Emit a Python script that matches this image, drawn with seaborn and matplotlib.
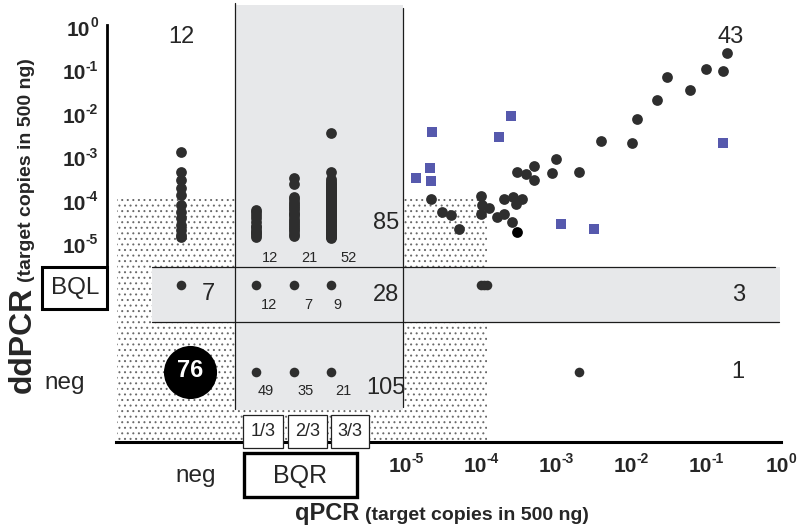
import numpy as np
import pandas as pd
import matplotlib
matplotlib.use("Agg")
import matplotlib.pyplot as plt
from matplotlib.patches import Rectangle
import seaborn as sns

# ---------------- data (log10 of target copies in 500 ng) ----------------
tick_exponents = [-5, -4, -3, -2, -1, 0]
bqr_levels = ["1/3", "2/3", "3/3"]

# qPCR negative, ddPCR quantifiable (12)
neg_dd_log10 = [-2.92, -3.38, -3.57, -3.76, -3.92, -4.15, -4.30, -4.45, -4.61, -4.72, -4.84, -4.88]
# qPCR BQR (1/3, 2/3, 3/3 replicates positive), ddPCR quantifiable
bqr1_dd_log10 = [-4.26, -4.30, -4.38, -4.45, -4.55, -4.62, -4.66, -4.72, -4.76, -4.80, -4.85, -4.88]
bqr2_dd_log10 = [-3.53, -3.66, -3.97, -4.02, -4.08, -4.12, -4.18, -4.22, -4.27, -4.33, -4.36,
                 -4.41, -4.47, -4.52, -4.56, -4.60, -4.66, -4.71, -4.75, -4.81, -4.87]
bqr3_dd_log10 = [-2.50, -3.38, -3.55, -3.60, -3.63, -3.67, -3.70, -3.74, -3.77, -3.80, -3.83,
                 -3.86, -3.88, -3.90, -3.93, -3.96, -3.98, -4.00, -4.03, -4.05, -4.08, -4.10,
                 -4.13, -4.15, -4.18, -4.20, -4.23, -4.25, -4.28, -4.30, -4.33, -4.36, -4.38,
                 -4.40, -4.43, -4.46, -4.49, -4.52, -4.55, -4.58, -4.61, -4.64, -4.67, -4.70,
                 -4.73, -4.76, -4.79, -4.82, -4.84, -4.86, -4.88, -4.90]

# both quantifiable: circles
quant_circ_q = [-0.72, -1.00, -0.77, -1.52, -1.22, -1.66, -1.92, -2.40, -1.99, -3.00, -2.69,
                -3.05, -3.30, -3.30, -3.52, -3.40, -4.67, -4.52, -4.40, -4.30, -4.00, -3.99,
                -4.00, -3.90, -3.79, -3.70, -3.70, -3.57, -3.46, -3.53, -3.59]
quant_circ_dd = [-0.64, -1.02, -1.06, -1.20, -1.50, -1.72, -2.17, -2.67, -2.73, -3.08, -3.39,
                 -3.41, -3.26, -3.56, -3.39, -3.44, -4.01, -4.32, -4.38, -4.71, -3.94, -4.15,
                 -4.36, -4.22, -4.42, -4.36, -4.02, -3.96, -4.01, -4.12, -4.53]
quant_black_q = [-3.52]
quant_black_dd = [-4.78]
# both quantifiable: squares
quant_sq_q = [-4.66, -3.60, -3.76, -4.68, -4.87, -4.67, -2.94, -2.50, -0.77]
quant_sq_dd = [-2.46, -2.10, -2.57, -3.29, -3.52, -3.59, -4.59, -4.71, -2.73]
# qPCR quantifiable, ddPCR BQL / negative
bql_row_q = [-4.00, -3.96, -3.92]
neg_row_q = [-2.70]

# counts
count_neg_quant = 12
count_quant_quant = 43
bqr_quant_counts = [12, 21, 52]
bqr_bql_counts = [12, 7, 9]
bqr_neg_counts = [49, 35, 21]
total_bqr_quant, total_bqr_bql, total_bqr_neg = 85, 28, 105
count_neg_bql, count_quant_bql, count_quant_neg = 7, 3, 1
count_neg_neg = 76

# ---------------- layout helpers (pixel -> data) ----------------
def X(px):
    return -5 + (px - 406) / 75.0

def Y(py):
    return -(py - 25) / 43.4

def PX(x):
    return 406 + 75.0 * (x + 5)

def PY(y):
    return 25 - 43.4 * y

NEG_X = -8.0
BQR_X = [-7.0, -6.5, -6.0]
BQL_Y = -6.0
NEG_Y = -8.0

sns.set_theme(style="white")
plt.rcParams["font.family"] = ["Liberation Sans", "DejaVu Sans"]
plt.rcParams["hatch.linewidth"] = 0.7

fig = plt.figure(figsize=(8, 5.28), dpi=100)
ax = fig.add_axes([0, 0, 1, 1])
ax.set_xlim(X(0), X(800))
ax.set_ylim(Y(528), Y(0))
ax.set_facecolor("white")

GRAY = "#e7e8ea"
DOT = "#2e2e2e"
BLUE = "#5659ad"

# stippled low region
ax.add_patch(Rectangle((X(117), Y(440)), X(487) - X(117), Y(199) - Y(440),
                       facecolor="none", edgecolor="#6a6a6a", hatch="...", lw=0, zorder=0.5))
# gray BQR column and BQL band
ax.add_patch(Rectangle((X(235), Y(410)), X(403) - X(235), Y(5) - Y(410),
                       facecolor=GRAY, lw=0, zorder=1))
ax.add_patch(Rectangle((X(152), Y(322)), X(780) - X(152), Y(267) - Y(322),
                       facecolor=GRAY, lw=0, zorder=1))
# separating lines
lc = "#1c1c1c"
ax.plot([X(235), X(235)], [Y(409), Y(3)], color=lc, lw=0.9, zorder=2)
ax.plot([X(403), X(403)], [Y(407), Y(8)], color=lc, lw=0.9, zorder=2)
ax.plot([X(152), X(775)], [Y(267), Y(267)], color=lc, lw=0.9, zorder=2)
ax.plot([X(152), X(779)], [Y(322), Y(322)], color=lc, lw=0.9, zorder=2)

# ---------------- marks ----------------
S_COL = 60
sns.scatterplot(x=[NEG_X] * len(neg_dd_log10), y=neg_dd_log10, ax=ax, color=DOT, s=S_COL,
                linewidth=0, zorder=3, legend=False)
for xpos, vals in zip(BQR_X, [bqr1_dd_log10, bqr2_dd_log10, bqr3_dd_log10]):
    sns.scatterplot(x=[xpos] * len(vals), y=vals, ax=ax, color=DOT, s=S_COL,
                    linewidth=0, zorder=3, legend=False)
sns.scatterplot(x=quant_circ_q, y=quant_circ_dd, ax=ax, color=DOT, s=S_COL,
                linewidth=0, zorder=3, legend=False)
sns.scatterplot(x=quant_black_q, y=quant_black_dd, ax=ax, color="black", s=S_COL,
                linewidth=0, zorder=3, legend=False)
sns.scatterplot(x=quant_sq_q, y=quant_sq_dd, ax=ax, color=BLUE, marker="s", s=62,
                linewidth=0, zorder=3, legend=False)

S_ROW = 48
sns.scatterplot(x=[NEG_X] + BQR_X + bql_row_q, y=[BQL_Y] * (4 + len(bql_row_q)), ax=ax,
                color=DOT, s=S_ROW, linewidth=0, zorder=3, legend=False)
sns.scatterplot(x=BQR_X + neg_row_q, y=[NEG_Y] * (3 + len(neg_row_q)), ax=ax,
                color=DOT, s=S_ROW, linewidth=0, zorder=3, legend=False)
# big negative/negative bubble
sns.scatterplot(x=[NEG_X + 0.12], y=[NEG_Y], ax=ax, color="black", s=1460,
                linewidth=0, zorder=3, legend=False)
ax.text(NEG_X + 0.12, NEG_Y + 0.03, str(count_neg_neg), color="white", fontsize=17,
        fontweight="bold", ha="center", va="center", zorder=4)

# ---------------- count labels ----------------
def txt(px, py, s, size=17, **kw):
    ax.text(X(px), Y(py), s, fontsize=size, ha=kw.pop("ha", "center"),
            va=kw.pop("va", "center"), zorder=kw.pop("zorder", 4), **kw)

txt(181, 37, str(count_neg_quant))
txt(731, 37, str(count_quant_quant))
txt(386, 223, str(total_bqr_quant))
txt(386, 295, str(total_bqr_bql))
txt(386, 388, str(total_bqr_neg))
txt(208, 294, str(count_neg_bql))
txt(739, 295, str(count_quant_bql))
txt(738, 372, str(count_quant_neg))
for px, c in zip([270, 309, 349], bqr_quant_counts):
    txt(px, 258, str(c), size=10.5)
for px, c in zip([269, 308, 337], bqr_bql_counts):
    txt(px, 305, str(c), size=10.5)
for px, c in zip([266, 306, 343], bqr_neg_counts):
    txt(px, 391, str(c), size=10.5)

# ---------------- axes ----------------
for side in ["top", "right"]:
    ax.spines[side].set_visible(False)
ax.spines["left"].set_position(("data", X(107)))
ax.spines["left"].set_bounds(Y(267), 0)
ax.spines["bottom"].set_position(("data", Y(442)))
ax.spines["bottom"].set_bounds(X(116), 0)
ax.spines["left"].set_linewidth(2.0)
ax.spines["bottom"].set_linewidth(2.2)
for sp in ["left", "bottom"]:
    ax.spines[sp].set_color("black")
    ax.spines[sp].set_zorder(2.5)
ax.set_xticks(tick_exponents)
ax.set_yticks(tick_exponents)
ax.set_xticklabels([])
ax.set_yticklabels([])
ax.tick_params(axis="both", direction="out", length=6.5, width=1.8, colors="black")
ax.grid(False)

# power-of-ten tick labels: "10" with a small raised exponent
renderer = fig.canvas.get_renderer()
BASE_FS, EXP_FS = 15, 10
def width_px(s, fs):
    t = fig.text(0, 0, s, fontsize=fs, fontweight="bold")
    w = t.get_window_extent(renderer).width
    t.remove()
    return w

w10 = width_px("10", BASE_FS)
for e in tick_exponents:
    es = "-%d" % -e if e < 0 else "%d" % e
    we = width_px(es, EXP_FS)
    # x axis label, centred under tick
    tx = PX(e)
    left = tx - (w10 + we) / 2
    ax.text(X(left), Y(472.5), "10", fontsize=BASE_FS, fontweight="bold", ha="left",
            va="baseline")
    ax.text(X(left + w10), Y(463), es, fontsize=EXP_FS, fontweight="bold", ha="left",
            va="baseline")
    # y axis label, right-aligned left of tick
    ty = PY(e)
    ax.text(X(98), Y(ty + 2.5), es, fontsize=EXP_FS, fontweight="bold", ha="right",
            va="baseline")
    ax.text(X(98 - we), Y(ty + 11), "10", fontsize=BASE_FS, fontweight="bold",
            ha="right", va="baseline")

# category labels on the axes
ax.add_patch(Rectangle((X(42), Y(309)), X(107) - X(42), Y(267) - Y(309), facecolor="white",
                       edgecolor="black", lw=2.2, zorder=5))
txt(75, 288, "BQL", size=17.5, zorder=6)
ax.text(X(44), Y(389), "neg", fontsize=17.5, ha="left", va="baseline", zorder=6)
ax.text(X(175), Y(482), "neg", fontsize=17.5, ha="left", va="baseline", zorder=6)
ax.add_patch(Rectangle((X(244), Y(497)), X(357) - X(244), Y(453) - Y(497), facecolor="white",
                       edgecolor="black", lw=2.4, zorder=5))
txt(300, 476, "BQR", size=18, zorder=6)
for (x0, x1), lab in zip([(243, 283), (288, 327), (331, 369)], bqr_levels):
    ax.add_patch(Rectangle((X(x0), Y(448)), X(x1) - X(x0), Y(415) - Y(448), facecolor="white",
                           edgecolor="#222222", lw=0.9, zorder=5))
    txt((x0 + x1) / 2, 432, lab, size=13, zorder=6)

# axis titles
ax.text(X(31), Y(393), "ddPCR", rotation=90, rotation_mode="anchor", ha="left", va="baseline",
        fontsize=23, fontweight="bold")
ax.text(X(31), Y(282), "(target copies in 500 ng)", rotation=90, rotation_mode="anchor",
        ha="left", va="baseline", fontsize=14, fontweight="bold")
ax.text(X(295), Y(520), "qPCR", ha="left", va="baseline", fontsize=17, fontweight="bold")
ax.text(X(365), Y(520), "(target copies in 500 ng)", ha="left", va="baseline",
        fontsize=14, fontweight="bold")

fig.savefig("out.png", dpi=100)
